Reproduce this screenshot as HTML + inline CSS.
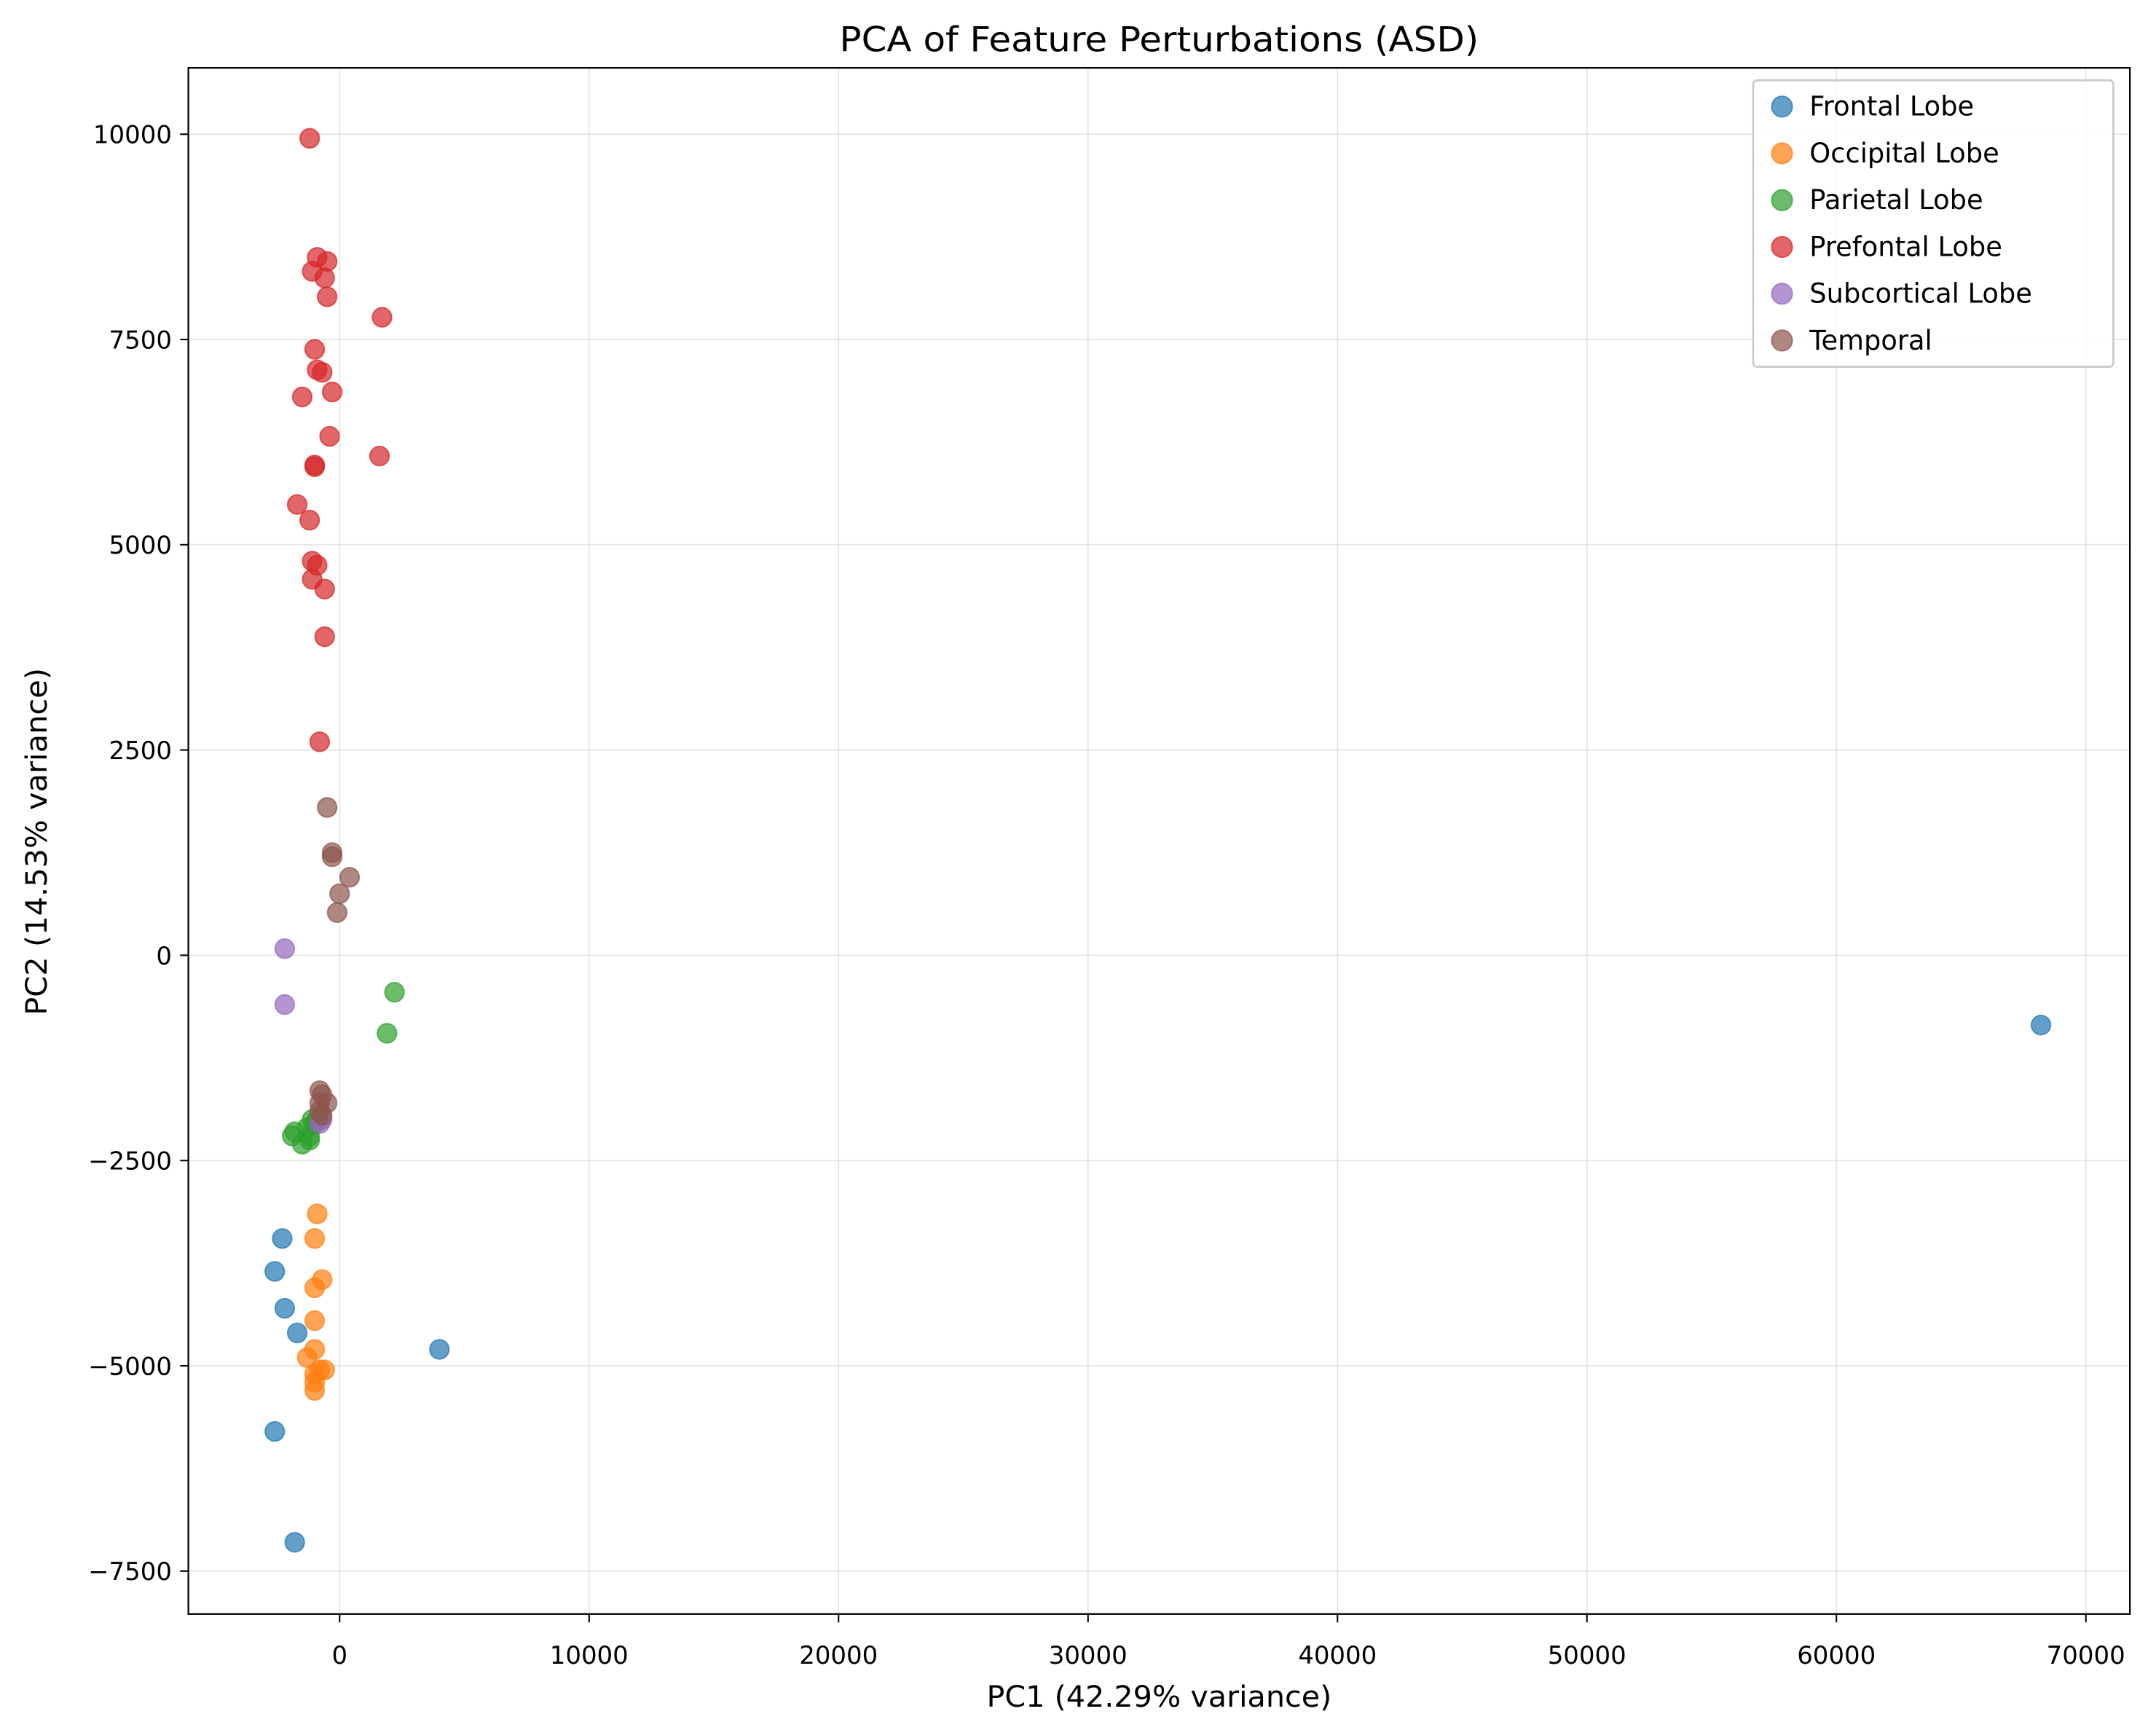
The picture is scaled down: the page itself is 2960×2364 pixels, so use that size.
<!DOCTYPE html>
<html><head><meta charset="utf-8"><style>html,body{margin:0;padding:0;background:#fff}svg{display:block}</style></head>
<body>
<svg id="chart" width="2960" height="2364" viewBox="0 0 1568 1244" preserveAspectRatio="none" xmlns="http://www.w3.org/2000/svg" font-family="'DejaVu Sans','Liberation Sans',sans-serif">
<rect width="1568" height="1244" fill="#fff"/>
<g id="grid"></g>
<g id="pts"></g>
<rect x="137" y="49" width="1412" height="1117" fill="none" stroke="#000" stroke-width="1.2"/>
<g id="ticks"></g>
<text x="843" y="37" text-anchor="middle" font-size="25" textLength="465" lengthAdjust="spacingAndGlyphs">PCA of Feature Perturbations (ASD)</text>
<text x="843" y="1233" text-anchor="middle" font-size="21" textLength="251" lengthAdjust="spacingAndGlyphs">PC1 (42.29% variance)</text>
<text transform="translate(34,608) rotate(-90)" text-anchor="middle" font-size="21" textLength="251" lengthAdjust="spacingAndGlyphs">PC2 (14.53% variance)</text>
<g id="legend">
<rect x="1275" y="58" width="262" height="207" rx="3" fill="#fff" fill-opacity="0.8" stroke="#ccc" stroke-width="1.5"/>
</g>
</svg>
<script>
const xTicks=[0,10000,20000,30000,40000,50000,60000,70000];
const yTicks=[-7500,-5000,-2500,0,2500,5000,7500,10000];
const yTickLabels=["\u22127500","\u22125000","\u22122500","0","2500","5000","7500","10000"];
const seriesNames=["Frontal Lobe","Occipital Lobe","Parietal Lobe","Prefontal Lobe","Subcortical Lobe","Temporal"];
const colors=["#1f77b4","#ff7f0e","#2ca02c","#d62728","#9467bd","#8c564b"];
const frontalX=[-2300,-2600,-2200,-1700,-2600,-1800,4000,68200];
const frontalY=[-3450,-3850,-4300,-4600,-5800,-7150,-4800,-850];
const occipitalX=[-900,-1000,-700,-1000,-1000,-1000,-1300,-600,-1000,-1000,-1000,-800];
const occipitalY=[-3150,-3450,-3950,-4050,-4450,-4800,-4900,-5050,-5100,-5200,-5300,-5050];
const parietalX=[2200,1900,-1900,-1800,-1500,-1200,-1000,-1100,-1300,-900,-1200];
const parietalY=[-450,-950,-2200,-2150,-2300,-2200,-2050,-2000,-2100,-2000,-2250];
const prefrontalX=[-1200,-900,-500,-1100,-600,-500,1700,-1000,-900,-700,-1500,-300,-400,1600,-1000,-1000,-1700,-1200,-1100,-900,-1100,-600,-600,-800];
const prefrontalY=[9950,8500,8450,8330,8250,8020,7770,7380,7130,7100,6800,6860,6320,6080,5970,5950,5490,5300,4800,4750,4580,4460,3880,2600];
const subcorticalX=[-2200,-2200,-700,-800];
const subcorticalY=[80,-600,-2000,-2050];
const temporalX=[-500,-300,-300,400,0,-100,-800,-700,-800,-500,-800,-700];
const temporalY=[1800,1250,1200,950,750,520,-1650,-1700,-1800,-1800,-1900,-1950];
const seriesX=[frontalX,occipitalX,parietalX,prefrontalX,subcorticalX,temporalX];
const seriesY=[frontalY,occipitalY,parietalY,prefrontalY,subcorticalY,temporalY];

const NS="http://www.w3.org/2000/svg";
function sx(v){return 247+v*(1517-247)/70000;}
function sy(v){return 690.1-v*(1135-97)/17500;}
function mk(tag,attrs,parent){const e=document.createElementNS(NS,tag);for(const k in attrs)e.setAttribute(k,attrs[k]);parent.appendChild(e);return e;}
const grid=document.getElementById('grid'),ticks=document.getElementById('ticks'),pts=document.getElementById('pts'),legend=document.getElementById('legend');
xTicks.forEach((t)=>{
  const x=sx(t);
  const g=mk('line',{x1:x,x2:x,y1:49,y2:1166,stroke:'#b0b0b0','stroke-opacity':0.3,'stroke-width':1},grid);
  
  
  const l=mk('line',{x1:x,x2:x,y1:1166,y2:1172,stroke:'#000','stroke-width':1.1},ticks);
  
  
  const tx=mk('text',{x:x,y:1202,'text-anchor':'middle','font-size':18},ticks);
  tx.textContent=String(t);
  
  
});
yTicks.forEach((t,i)=>{
  const y=sy(t);
  const g=mk('line',{x1:137,x2:1549,y1:y,y2:y,stroke:'#b0b0b0','stroke-opacity':0.3,'stroke-width':1},grid);
  
  
  const l=mk('line',{x1:131,x2:137,y1:y,y2:y,stroke:'#000','stroke-width':1.1},ticks);
  
  
  const tx=mk('text',{x:125,y:y+6.5,'text-anchor':'end','font-size':18},ticks);
  tx.textContent=yTickLabels[i];
  
  
});
seriesX.forEach((xs,s)=>{
  xs.forEach((v,i)=>{
    const c=mk('circle',{cx:sx(v),cy:sy(seriesY[s][i]),r:7,fill:colors[s],'fill-opacity':0.7,stroke:colors[s],'stroke-opacity':0.7,'stroke-width':1},pts);
    
    
  });
  const y=77+s*33.8;
  const m=mk('circle',{cx:1296,cy:y,r:7.5,fill:colors[s],'fill-opacity':0.7,stroke:colors[s],'stroke-opacity':0.7,'stroke-width':1},legend);
  
  
  const t=mk('text',{x:1316,y:y+6.5,'font-size':19.5},legend);
  t.textContent=seriesNames[s];
  
  
});
</script>
</body></html>
